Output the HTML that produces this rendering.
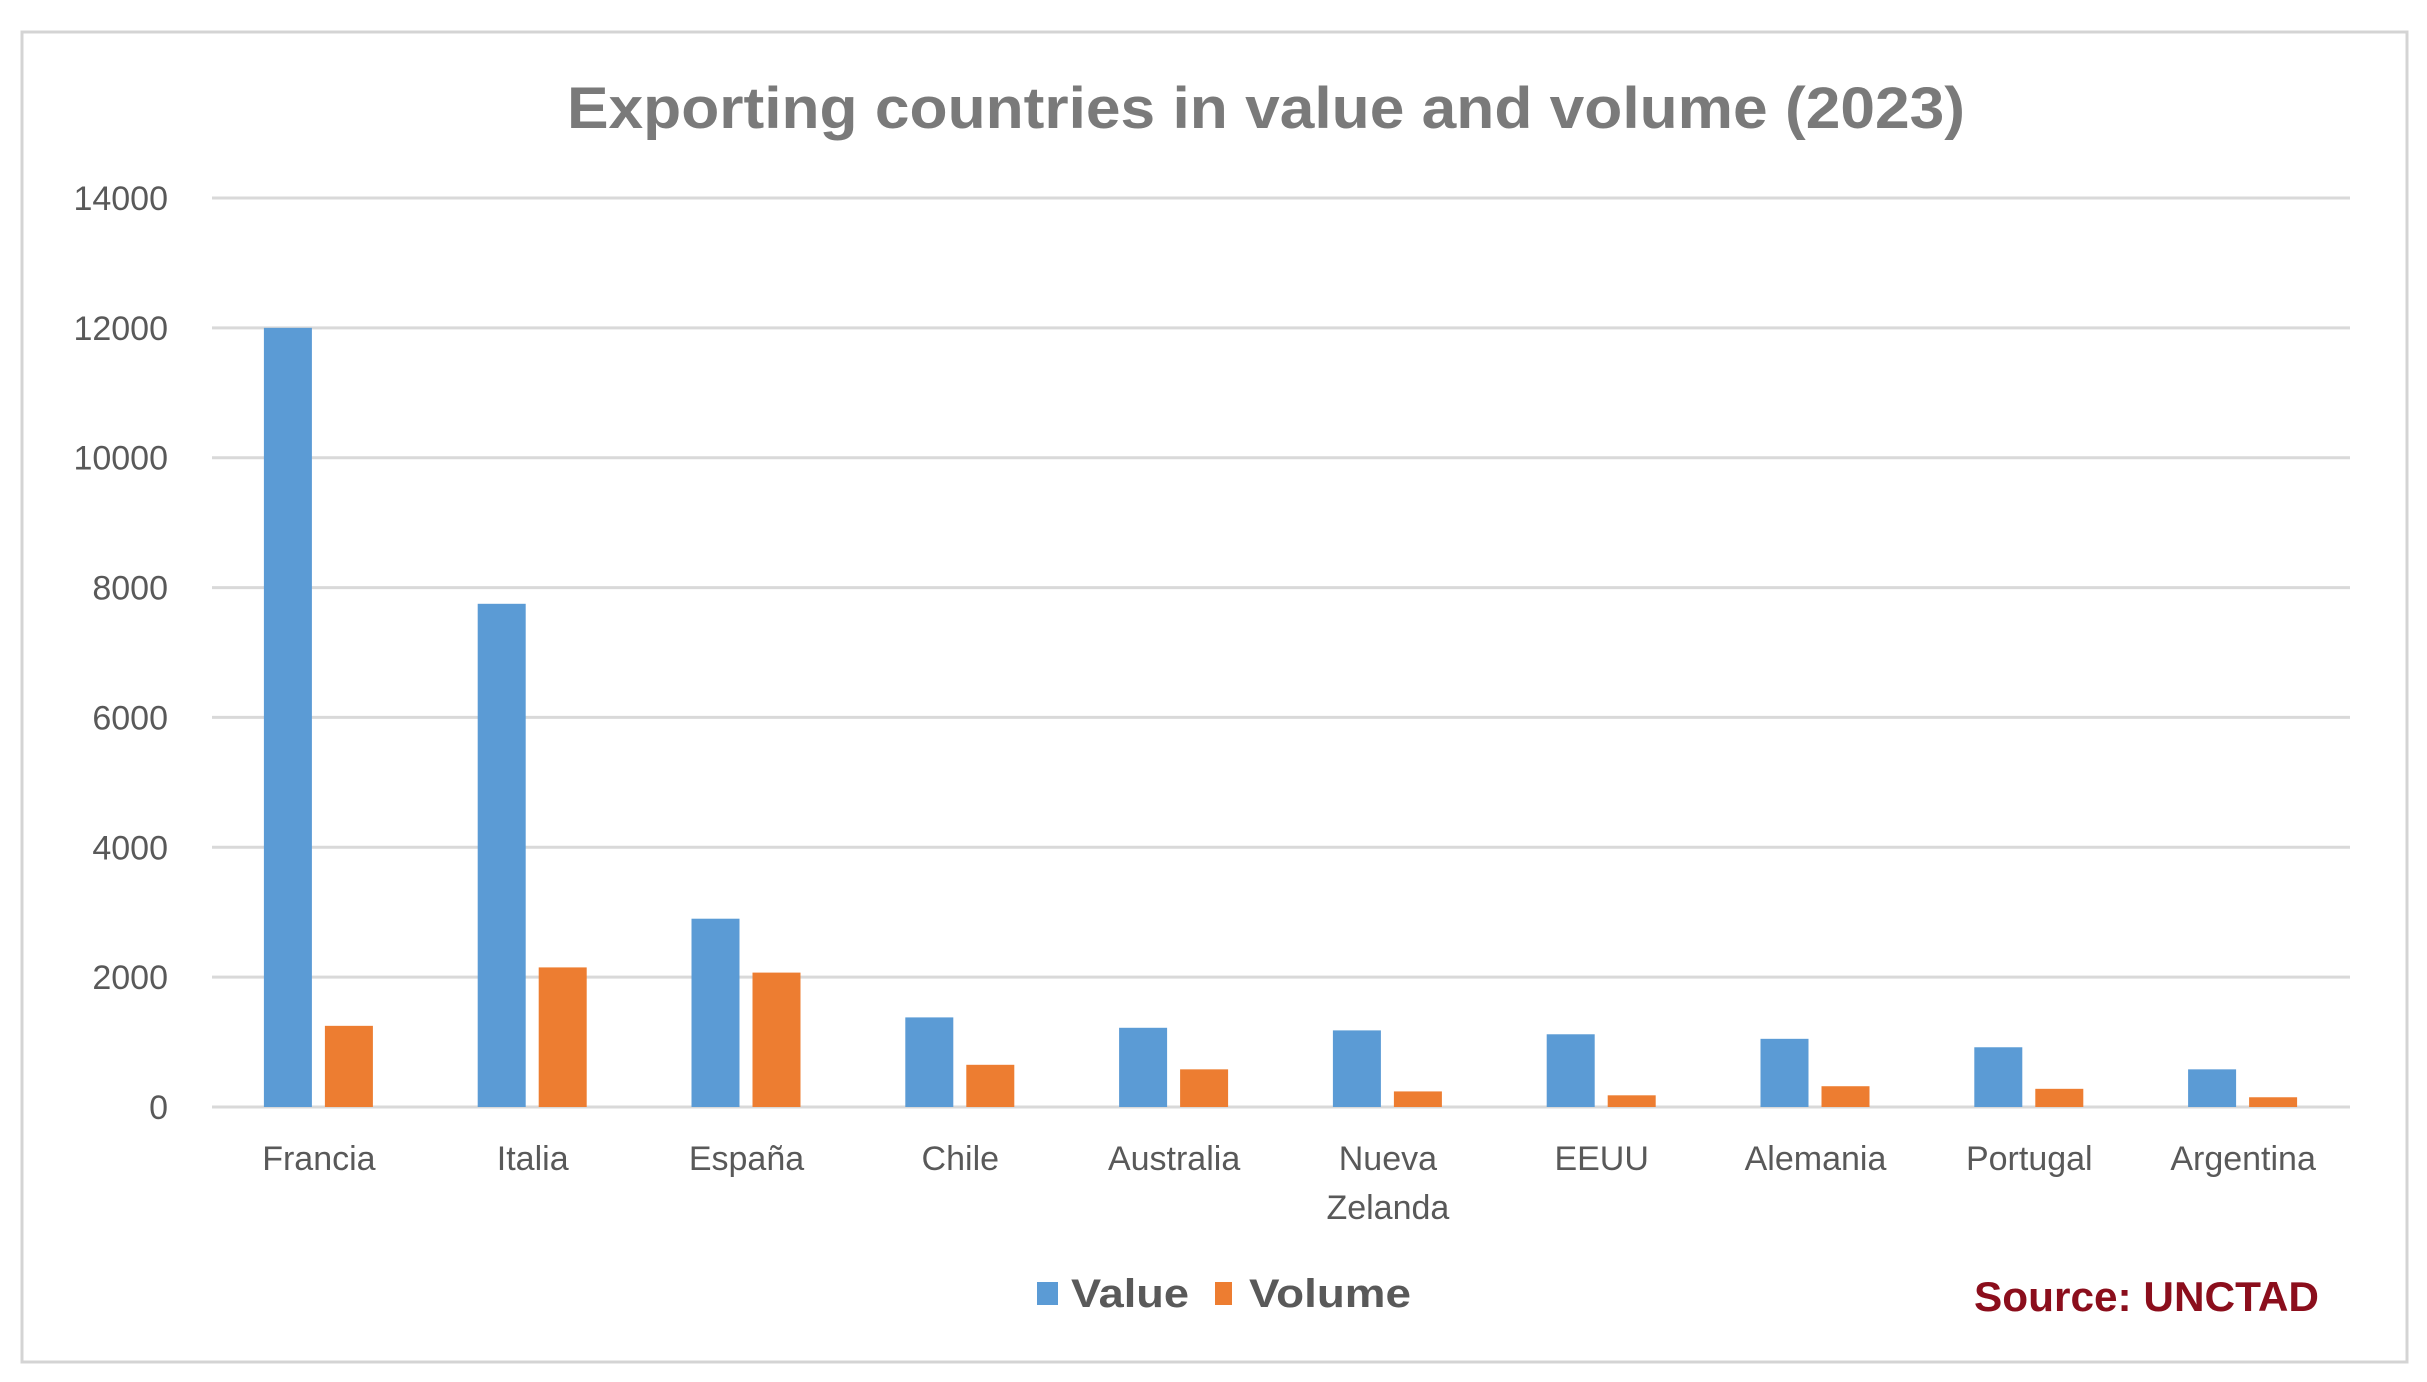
<!DOCTYPE html>
<html><head><meta charset="utf-8"><style>
html,body{margin:0;padding:0;background:#fff;width:2427px;height:1382px;overflow:hidden}
svg{display:block;font-family:"Liberation Sans",sans-serif}
</style></head><body>
<svg id="chart" width="2427" height="1382" viewBox="0 0 2427 1382">
<rect x="22" y="32" width="2385" height="1330" fill="#fff" stroke="#d4d4d4" stroke-width="3"/>
<text x="1266" y="128" text-anchor="middle" font-size="58" font-weight="bold" fill="#7a7a7a" textLength="1398" lengthAdjust="spacingAndGlyphs">Exporting countries in value and volume (2023)</text>
<g id="grid"></g><g id="bars"></g><g id="xlabels"></g>
<g>
<rect x="1037" y="1282" width="21" height="23" fill="#5b9bd5"/>
<text x="1071" y="1307" font-size="40" font-weight="bold" fill="#595959" textLength="118" lengthAdjust="spacingAndGlyphs">Value</text>
<rect x="1215" y="1282" width="17" height="23" fill="#ed7d31"/>
<text x="1249" y="1307" font-size="40" font-weight="bold" fill="#595959" textLength="162" lengthAdjust="spacingAndGlyphs">Volume</text>
</g>
<text x="1974" y="1311" font-size="42" font-weight="bold" fill="#8b0e1c" textLength="345" lengthAdjust="spacingAndGlyphs">Source: UNCTAD</text>
</svg>
<script>
const categories = ["Francia","Italia","España","Chile","Australia","Nueva Zelanda","EEUU","Alemania","Portugal","Argentina"];
const valueSeries = [12000,7750,2900,1380,1220,1180,1120,1050,920,580];
const volumeSeries = [1250,2150,2070,650,580,240,180,320,280,150];
const yTicks = [0,2000,4000,6000,8000,10000,12000,14000];
const NS="http://www.w3.org/2000/svg";
const L=212,R=2350,T=198,B=1107,YMAX=14000;
const y=v=>B-(v/YMAX)*(B-T);
const cw=(R-L)/categories.length;
const xc=i=>L+cw*(i+0.5);
function mk(tag,attrs,parent){const e=document.createElementNS(NS,tag);for(const k in attrs)e.setAttribute(k,attrs[k]);parent.appendChild(e);return e;}
const grid=document.getElementById('grid');
yTicks.forEach(t=>{
  const ln=mk('line',{x1:L,x2:R,y1:y(t),y2:y(t),stroke:'#d9d9d9','stroke-width':3},grid);
  
  
  const tx=mk('text',{x:168,y:y(t)+12,'text-anchor':'end','font-size':34,fill:'#595959'},grid);
  tx.textContent=t;
  
  
});
const bars=document.getElementById('bars');
categories.forEach((c,i)=>{
  const b1=mk('rect',{x:xc(i)-55,y:y(valueSeries[i]),width:48,height:B-y(valueSeries[i]),fill:'#5b9bd5'},bars);
  
  
  const b2=mk('rect',{x:xc(i)+6,y:y(volumeSeries[i]),width:48,height:B-y(volumeSeries[i]),fill:'#ed7d31'},bars);
  
  
});
const xl=document.getElementById('xlabels');
categories.forEach((c,i)=>{
  const parts=c==="Nueva Zelanda"?["Nueva","Zelanda"]:[c];
  parts.forEach((p,j)=>{
    const t=mk('text',{x:xc(i),y:1170+j*49,'text-anchor':'middle','font-size':34,fill:'#595959'},xl);
    t.textContent=p;
    
    
  });
});
</script>
</body></html>
